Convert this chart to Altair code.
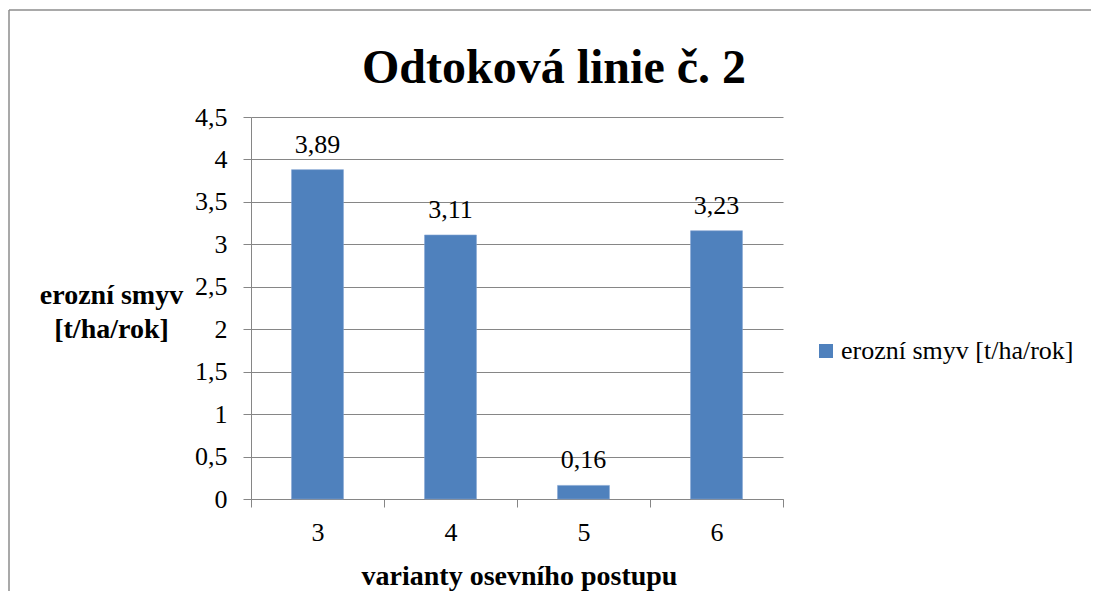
import altair as alt
import pandas as pd

# ---- data ----
categories = ["3", "4", "5", "6"]
bar_values = [3.88, 3.11, 0.16, 3.16]
bar_labels = ["3,89", "3,11", "0,16", "3,23"]
series_name = "erozní smyv [t/ha/rok]"
y_ticks = [0, 0.5, 1, 1.5, 2, 2.5, 3, 3.5, 4, 4.5]
chart_title = "Odtoková linie č. 2"
x_title = "varianty osevního postupu"
y_title = ["erozní smyv", "[t/ha/rok]"]

FONT = "Liberation Serif"
BLUE = "#4F81BD"
GRAY = "#868686"

df = pd.DataFrame({
    "cat": categories,
    "val": bar_values,
    "lab": bar_labels,
    "series": [series_name] * len(categories),
})

x_enc = alt.X(
    "cat:N",
    sort=categories,
    scale=alt.Scale(paddingInner=0, paddingOuter=0),
    axis=alt.Axis(
        title=x_title,
        tickBand="extent",
        labelAngle=0,
        labelFontSize=26,
        labelPadding=12,
        labelColor="black",
        tickSize=8,
        tickColor=GRAY,
        domainColor=GRAY,
        titleFontSize=28,
        titleFontWeight="bold",
        titleBaseline="alphabetic",
        titleX=268,
        titleY=85,
        titleColor="black",
        grid=False,
    ),
)

y_enc = alt.Y(
    "val:Q",
    scale=alt.Scale(domain=[0, 4.5], nice=False),
    axis=alt.Axis(
        title=y_title,
        values=y_ticks,
        labelExpr="replace(toString(datum.value), '.', ',')",
        labelFontSize=26,
        labelPadding=16,
        labelColor="black",
        tickSize=8,
        tickColor=GRAY,
        domainColor=GRAY,
        gridColor=GRAY,
        grid=True,
        titleAngle=0,
        titleAlign="center",
        titleBaseline="middle",
        titleX=-140,
        titleY=178,
        titleFontSize=28,
        titleFontWeight="bold",
        titleLineHeight=34,
        titleColor="black",
    ),
)

bars = alt.Chart(df).mark_bar(
    width=alt.RelativeBandSize(0.39), stroke="#7fa3d1", strokeWidth=0.6
).encode(
    x=x_enc,
    y=y_enc,
    color=alt.Color(
        "series:N",
        scale=alt.Scale(range=[BLUE]),
        legend=alt.Legend(
            title=None,
            orient="none",
            legendX=562,
            legendY=221,
            symbolType="square",
            symbolSize=196,
            symbolStrokeWidth=0,
            labelFontSize=26,
            labelFont=FONT,
            labelColor="black",
            labelOffset=2,
            labelLimit=0,
        ),
    ),
)

labels = alt.Chart(df).mark_text(
    font=FONT, fontSize=26, baseline="alphabetic", dy=-17, color="black"
).encode(x=alt.X("cat:N", sort=categories), y="val:Q", text="lab:N")

title_df = pd.DataFrame({"t": [chart_title]})
title = alt.Chart(title_df).mark_text(
    font=FONT, fontSize=48, fontWeight="bold", baseline="alphabetic",
    align="center", color="black"
).encode(text="t:N", x=alt.value(303), y=alt.value(-34))

frame_top = alt.Chart(title_df).mark_rule(color="#8c8c8c", strokeWidth=1.5).encode(
    x=alt.value(-242), x2=alt.value(900), y=alt.value(-107)
)
frame_left = alt.Chart(title_df).mark_rule(color="#8c8c8c", strokeWidth=1.5).encode(
    x=alt.value(-242), y=alt.value(-107), y2=alt.value(600)
)

chart = alt.layer(bars, labels, title, frame_top, frame_left).properties(
    width=532,
    height=382,
    autosize=alt.AutoSizeParams(type="none"),
    padding={"left": 243, "top": 109, "right": 308, "bottom": 92},
).configure_view(stroke=None).configure_axis(
    labelFont=FONT, titleFont=FONT
).configure_text(font=FONT)

chart.save("out.html", embed_options={"renderer": "svg", "actions": False})
